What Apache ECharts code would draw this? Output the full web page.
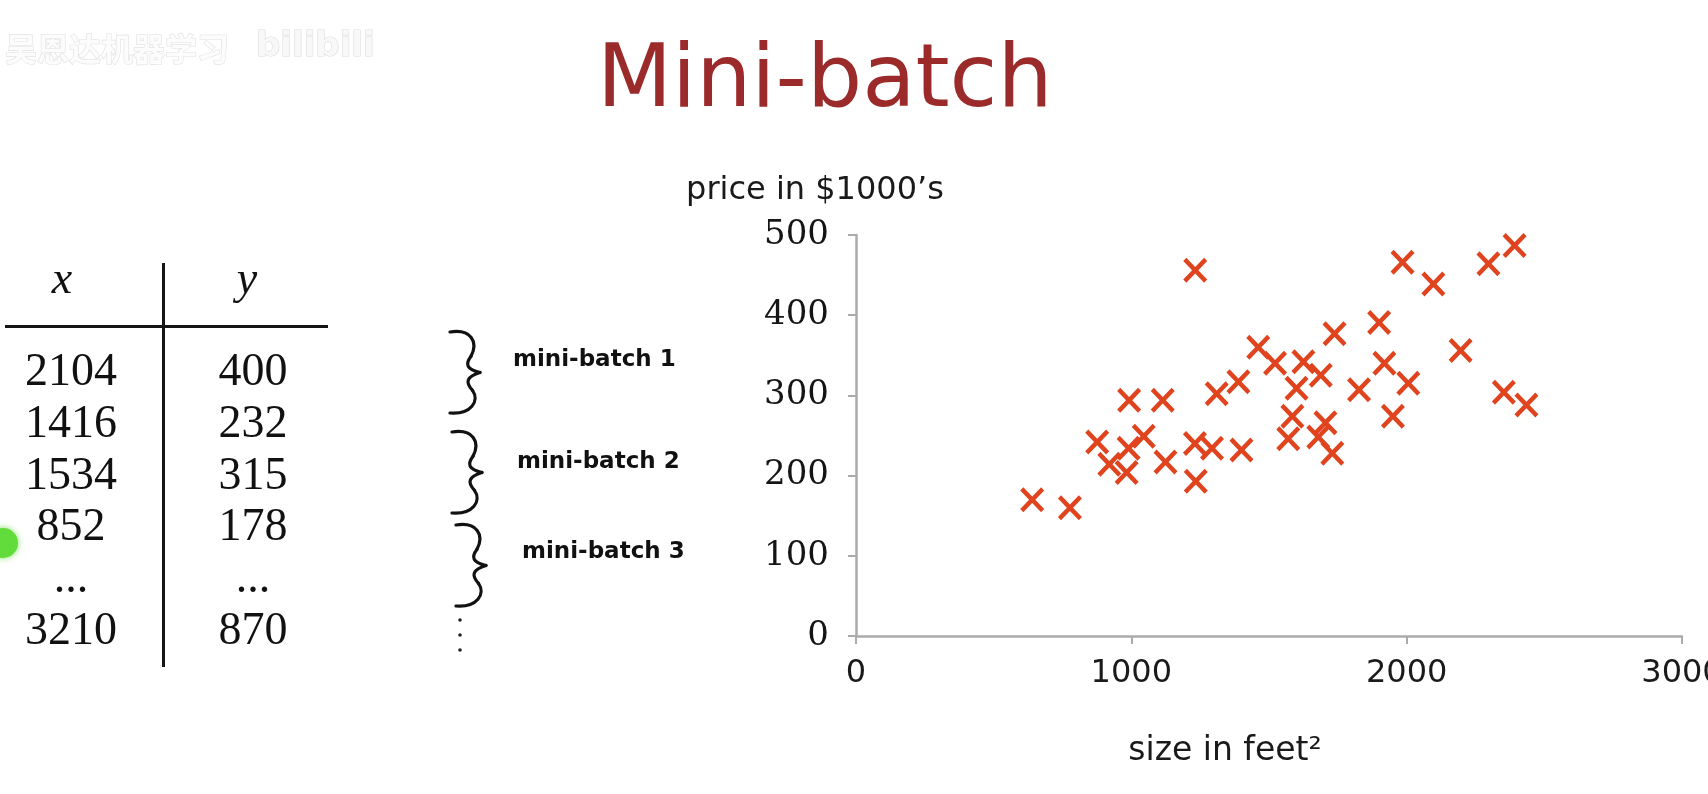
<!DOCTYPE html>
<html>
<head>
<meta charset="utf-8">
<script src="https://cdn.jsdelivr.net/npm/echarts@6/dist/echarts.min.js"></script>
<style>
html,body{margin:0;padding:0;background:#fff;}
#main{width:1708px;height:794px;}
</style>
</head>
<body>
<div id="main"></div>
<script>
// ---- data ----
const titleText = 'Mini-batch';
const tableHeader = ['x', 'y'];
const tableX = ['2104', '1416', '1534', '852', '...', '3210'];
const tableY = ['400', '232', '315', '178', '...', '870'];
const batchLabels = ['mini-batch 1', 'mini-batch 2', 'mini-batch 3'];
const sizes  = [640, 777, 876, 920, 983, 990, 992, 1045, 1114, 1124, 1232, 1231, 1234, 1293, 1310, 1389, 1400, 1461, 1522, 1625, 1600, 1688, 1585, 1570, 1679, 1705, 1730, 1738, 1827, 1900, 1919, 1950, 1985, 2006, 2097, 2196, 2297, 2392, 2353, 2435];
const prices = [170, 160, 242, 214, 204, 234, 294, 249, 294, 217, 456, 240, 193, 234, 302, 317, 232, 360, 340, 342, 309, 325, 274, 246, 248, 266, 228, 377, 307, 391, 340, 274, 466, 315, 439, 356, 464, 487, 304, 288];
const xTicks = [0, 1000, 2000, 3000];
const yTicks = [0, 100, 200, 300, 400, 500];
const xAxisName = 'size in feet\u00B2';
const yAxisName = 'price in $1000\u2019s';
const watermark = '吴恩达机器学习';

// ---- build ----
const points = sizes.map((s, i) => [s, prices[i]]);
const crossPath = 'path://M0,13 L13,0 L50,37 L87,0 L100,13 L63,50 L100,87 L87,100 L50,63 L13,100 L0,87 L37,50 Z';

const graphics = [];
// watermark
graphics.push({type:'text', style:{x:5, y:49, text:watermark, fontFamily:'Noto Sans CJK SC', fontWeight:'bold', fontSize:32, fill:'#fcfcfc', stroke:'#e0e0e0', lineWidth:1.2, textVerticalAlign:'middle'}});
graphics.push({type:'text', style:{x:256, y:47, text:'bilibili', fontFamily:'DejaVu Sans', fontWeight:'bold', fontSize:34, fill:'#f8f8f8', stroke:'#dddddd', lineWidth:1.2, textVerticalAlign:'middle'}});
// table lines
graphics.push({type:'line', shape:{x1:5, y1:326.5, x2:328, y2:326.5}, style:{stroke:'#151515', lineWidth:3}});
graphics.push({type:'line', shape:{x1:163.5, y1:263, x2:163.5, y2:667}, style:{stroke:'#151515', lineWidth:3}});
// table header
graphics.push({type:'text', style:{x:62, y:281, text:tableHeader[0], fontFamily:'Liberation Serif', fontStyle:'italic', fontSize:46, fill:'#111', textAlign:'center', textVerticalAlign:'middle'}});
graphics.push({type:'text', style:{x:247, y:281, text:tableHeader[1], fontFamily:'Liberation Serif', fontStyle:'italic', fontSize:46, fill:'#111', textAlign:'center', textVerticalAlign:'middle'}});
// table rows
tableX.forEach((v, i) => {
  const y = 373 + i * 51.8;
  graphics.push({type:'text', style:{x:71, y:y, text:v, fontFamily:'Liberation Serif', fontSize:46, fill:'#111', textAlign:'center', textVerticalAlign:'middle'}});
  graphics.push({type:'text', style:{x:253, y:y, text:tableY[i], fontFamily:'Liberation Serif', fontSize:46, fill:'#111', textAlign:'center', textVerticalAlign:'middle'}});
});
// green pointer dot
graphics.push({type:'circle', shape:{cx:3, cy:543, r:15}, style:{fill:'#62dc3a', shadowBlur:6, shadowColor:'rgba(98,220,58,0.8)'}});
// braces (cubic segments)
function braceSegs(x0, y0, w, h) {
  const X = f => x0 + f * w, Y = f => y0 + f * h;
  const segs = [
    [[0,0],[0.7,-0.04],[0.95,0.12],[0.7,0.3]],
    [[0.7,0.3],[0.5,0.4],[0.55,0.46],[1.0,0.5]],
    [[1.0,0.5],[0.55,0.55],[0.5,0.62],[0.75,0.72]],
    [[0.75,0.72],[1.0,0.85],[0.7,1.02],[0,1.0]]
  ];
  return segs.map(s => ({
    type:'bezierCurve',
    shape:{x1:X(s[0][0]), y1:Y(s[0][1]), cpx1:X(s[1][0]), cpy1:Y(s[1][1]), cpx2:X(s[2][0]), cpy2:Y(s[2][1]), x2:X(s[3][0]), y2:Y(s[3][1])},
    style:{stroke:'#111', lineWidth:3.2, fill:null, lineCap:'round'}
  }));
}
const braceTops = [332, 432, 525];
const braceX = [450, 452, 456];
braceTops.forEach((t, i) => { braceSegs(braceX[i], t, 30, 81).forEach(g => graphics.push(g)); });
[620, 635, 650].forEach(y => graphics.push({type:'circle', shape:{cx:460, cy:y, r:1.8}, style:{fill:'#222'}}));
const labelY = [360, 462, 552];
const labelX = [513, 517, 522];
batchLabels.forEach((t, i) => {
  graphics.push({type:'text', style:{x:labelX[i], y:labelY[i], text:t, fontFamily:'DejaVu Sans', fontWeight:'bold', fontSize:23, fill:'#111', textVerticalAlign:'middle'}});
});

const chart = echarts.init(document.getElementById('main'), null, {renderer:'canvas'});
chart.setOption({
  backgroundColor:'#ffffff',
  animation:false,
  title:{text:titleText, left:597, top:40, padding:0, textStyle:{fontFamily:'DejaVu Sans', fontSize:87, fontWeight:'normal', color:'#9b2a2a'}},
  grid:{left:856, right:26, top:235, bottom:158, containLabel:false, outerBoundsMode:'none'},
  xAxis:{
    type:'value', min:xTicks[0], max:xTicks[xTicks.length-1], interval:xTicks[1]-xTicks[0],
    name:xAxisName, nameLocation:'middle', nameGap:99,
    nameTextStyle:{fontFamily:'DejaVu Sans', fontSize:33, color:'#1a1a1a', padding:[0,88,0,0]},
    axisLine:{show:true, lineStyle:{color:'#ababab', width:2.5}},
    axisTick:{show:true, inside:false, length:8, lineStyle:{color:'#ababab', width:2}},
    axisLabel:{margin:22, fontFamily:'DejaVu Sans', fontSize:32, color:'#1a1a1a', formatter: v => String(v)},
    splitLine:{show:false}
  },
  yAxis:{
    type:'value', min:yTicks[0], max:yTicks[yTicks.length-1], interval:yTicks[1]-yTicks[0],
    name:yAxisName, nameLocation:'end', nameGap:28,
    nameTextStyle:{fontFamily:'DejaVu Sans', fontSize:32, color:'#1a1a1a', align:'center', padding:[0,82,0,0]},
    axisLine:{show:true, lineStyle:{color:'#ababab', width:2.5}},
    axisTick:{show:true, inside:false, length:8, lineStyle:{color:'#ababab', width:2}},
    axisLabel:{margin:27, fontFamily:'DejaVu Serif', fontSize:34, color:'#151515', formatter: v => String(v)},
    splitLine:{show:false}
  },
  series:[{
    type:'scatter', data:points, symbol:crossPath, symbolSize:[24,25],
    itemStyle:{color:'#e0441f', opacity:1}
  }],
  graphic:graphics
});
</script>
</body>
</html>
